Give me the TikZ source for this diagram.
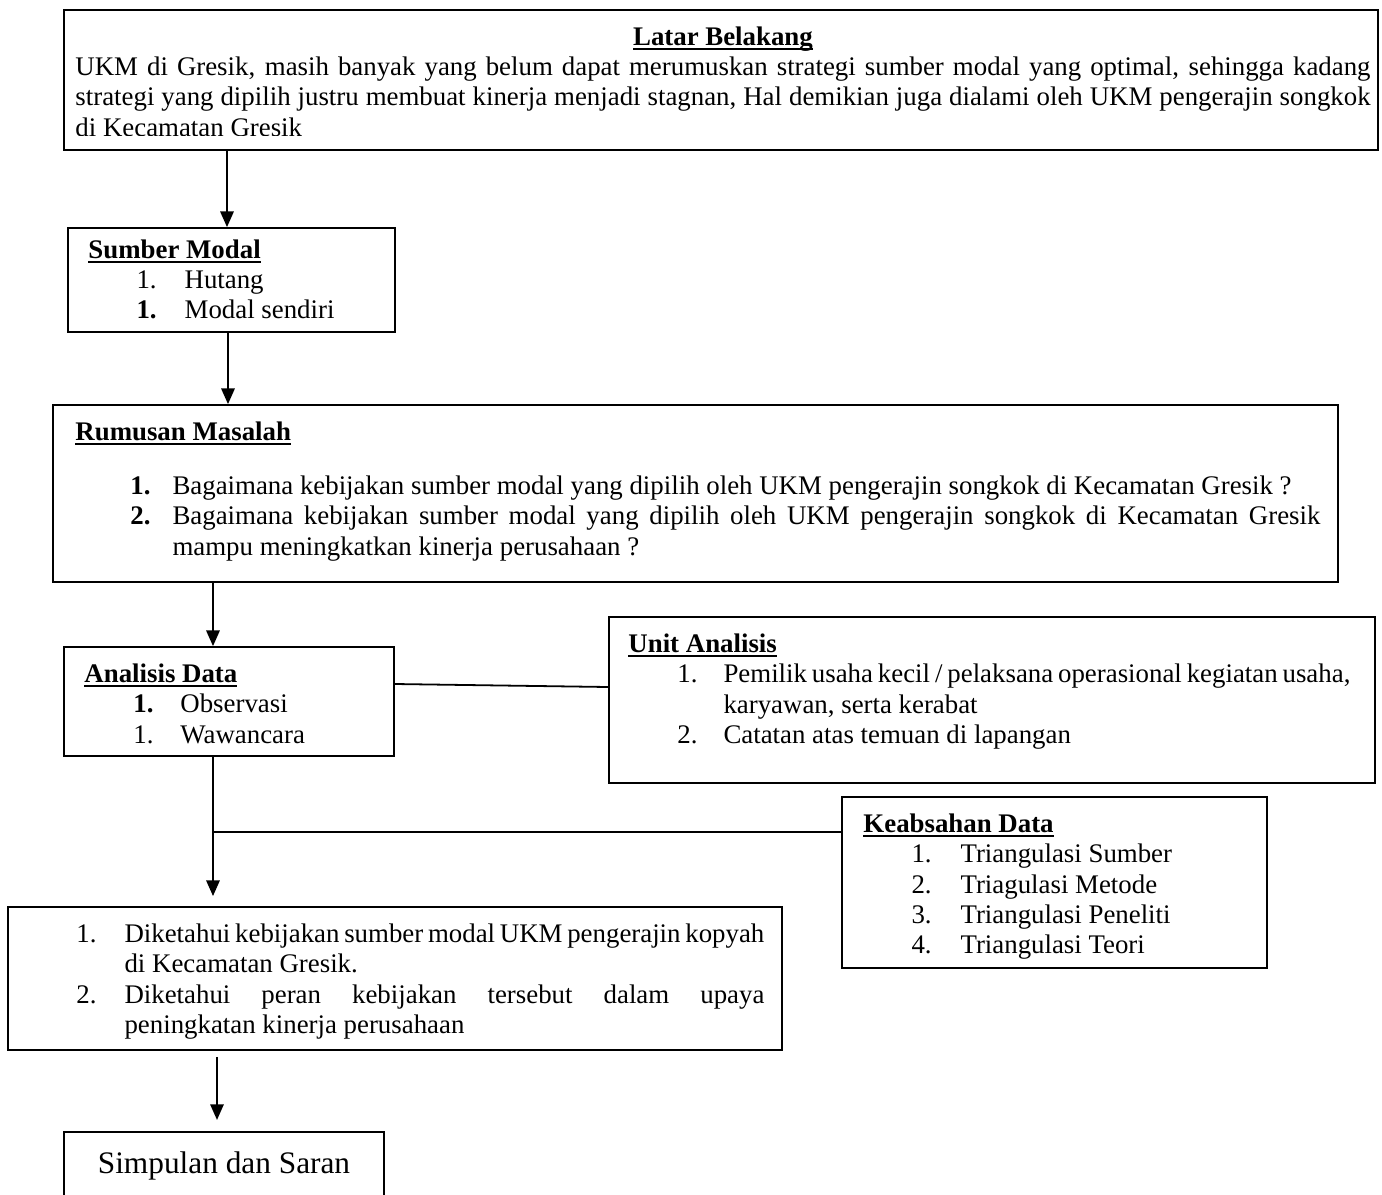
\documentclass[tikz,border=0pt]{standalone}
\usepackage{fontspec}
\setmainfont{Liberation Serif}
\usetikzlibrary{arrows.meta,fit}
\hyphenpenalty=10000
\exhyphenpenalty=10000
\tolerance=3000
\newcommand\judul[1]{\textbf{\setbox0\hbox{#1}\rlap{\rule[-1.9pt]{\wd0}{0.9pt}}\box0}}
\newcommand\butir[4]{{\leftskip=#1\relax\hangindent=#2\hangafter=1\noindent\makebox[#2][l]{#3}#4\par}}

\begin{document}
\begin{tikzpicture}[x=0.447pt, y=-0.447pt,
  kotak/.style={draw, line width=0.8pt, inner sep=0pt},
  teks/.style={anchor=north west, inner sep=0pt, align=justify, font=\fontsize{12}{13.5}\selectfont},
  panah/.style={line width=0.8pt, -{Triangle[length=7pt, width=6pt]}},
  garis/.style={line width=0.8pt}]
\useasboundingbox (0,0) rectangle (1382,1194);
% kotak
\node[kotak, fit={(64,10) (1378,150)}] (latar) {};
\node[kotak, fit={(68,228) (395,332)}] (sumber) {};
\node[kotak, fit={(53,405) (1338,582)}] (rumusan) {};
\node[kotak, fit={(64,647) (394,756)}] (analisis) {};
\node[kotak, fit={(609,617) (1375,783)}] (unit) {};
\node[kotak, fit={(842,797) (1267,968)}] (keabsahan) {};
\node[kotak, fit={(8,907) (782,1050)}] (hasil) {};
\node[kotak, fit={(64,1132) (384,1240)}] (simpulan) {};
% isi
\begin{scope}
\clip (64,10) rectangle (1378,135);
\node[teks, text width=578.9pt] (latartxt) at (75,24) {{\centering\strut\judul{Latar Belakang}\par}UKM di Gresik, masih banyak yang belum dapat merumuskan strategi sumber modal yang optimal, sehingga kadang\linebreak strategi yang dipilih justru membuat kinerja menjadi stagnan, Hal demikian juga dialami oleh UKM pengerajin songkok\linebreak di Kecamatan Gresik};
\end{scope}
\node[teks, text width=134pt] (sumbertxt) at (88,237) {\strut\judul{Sumber Modal}\par
\butir{21.5pt}{21.5pt}{1.}{Hutang}
\butir{21.5pt}{21.5pt}{\textbf{1.}}{Modal sendiri}};
\node[teks, text width=556.5pt] (rumusantxt) at (75,419) {\strut\judul{Rumusan Masalah}\par\vspace{10.7pt}
\butir{24.6pt}{18.8pt}{\textbf{1.}}{Bagaimana kebijakan sumber modal yang dipilih oleh UKM pengerajin songkok di Kecamatan Gresik~?}
\butir{24.6pt}{18.8pt}{\textbf{2.}}{Bagaimana kebijakan sumber modal yang dipilih oleh UKM pengerajin songkok di Kecamatan Gresik\linebreak mampu meningkatkan kinerja perusahaan~?}};
\node[teks, text width=134pt] (analisistxt) at (84,661) {\strut\judul{Analisis Data}\par
\butir{21.9pt}{21pt}{\textbf{1.}}{Observasi}
\butir{21.9pt}{21pt}{1.}{Wawancara}};
\node[teks, text width=322.7pt] (unittxt) at (628,631) {\strut\judul{Unit Analisis}\par
\butir{21.9pt}{20.6pt}{1.}{Pemilik usaha kecil / pelaksana operasional kegiatan usaha,\linebreak karyawan, serta kerabat}
\butir{21.9pt}{20.6pt}{2.}{Catatan atas temuan di lapangan}};
\node[teks, text width=179pt] (keabsahantxt) at (863,811) {\strut\judul{Keabsahan Data}\par
\butir{21.5pt}{21.9pt}{1.}{Triangulasi Sumber}
\butir{21.5pt}{21.9pt}{2.}{Triagulasi Metode}
\butir{21.5pt}{21.9pt}{3.}{Triangulasi Peneliti}
\butir{21.5pt}{21.9pt}{4.}{Triangulasi Teori}};
\node[teks, text width=307.5pt] (hasiltxt) at (76,921) {\strut\butir{0pt}{21.5pt}{1.}{Diketahui kebijakan sumber modal UKM pengerajin kopyah\linebreak di Kecamatan Gresik.}
\butir{0pt}{21.5pt}{2.}{Diketahui peran kebijakan tersebut dalam upaya\linebreak peningkatan kinerja perusahaan}};
\node[anchor=base, inner sep=0pt, font=\fontsize{14}{16}\selectfont] (simpulantxt) at (224,1173) {Simpulan dan Saran};
% panah
\coordinate (cabang) at (213,832);
\draw[panah] (latar.south -| 227,0) -- (sumber.north -| 227,0);
\draw[panah] (sumber.south -| 228,0) -- (rumusan.north -| 228,0);
\draw[panah] (rumusan.south -| 213,0) -- (analisis.north -| 213,0);
\draw[garis] (analisis.east |- 0,684) -- (unit.west |- 0,687);
\draw[panah, shorten >=4.5pt] (analisis.south -| cabang) -- (hasil.north -| cabang);
\draw[garis] (cabang) -- (keabsahan.west |- cabang);
\draw[panah, shorten <=2.7pt, shorten >=5pt] (hasil.south -| 217,0) -- (simpulan.north -| 217,0);
\end{tikzpicture}
\end{document}
